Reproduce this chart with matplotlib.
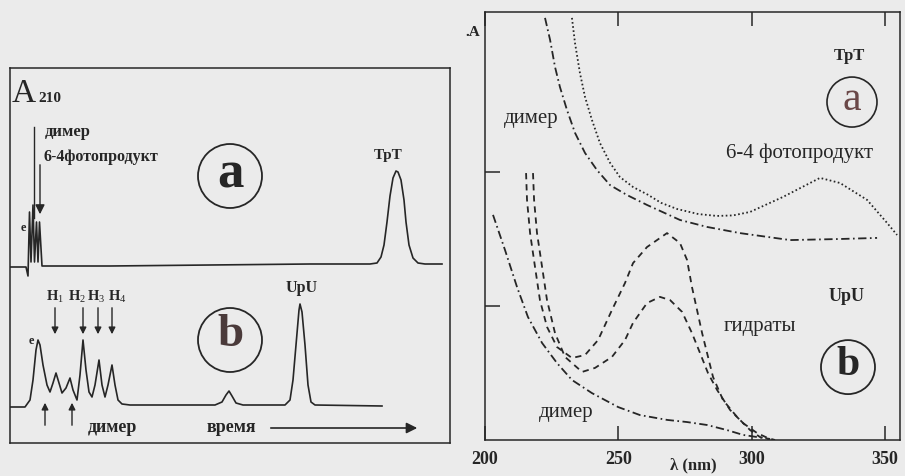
import matplotlib
matplotlib.use("Agg")
import matplotlib.pyplot as plt
from matplotlib.patches import Circle, Ellipse

# --- left: chromatograms (arbitrary time / A210 units) ---
trace_a_t = [0, 1.6, 1.8, 1.95, 2.1, 2.3, 2.45, 2.65, 2.8, 2.95, 3.2, 10, 20, 30, 36.0, 36.7,
             37.1, 37.4, 37.7, 38.0, 38.3, 38.6, 38.8, 39.1, 39.4, 39.6, 39.9, 40.3, 40.8, 41.5, 43.2]
trace_a_y = [17.6, 17.6, 16.7, 23.1, 18.1, 23.8, 18.1, 22.1, 18.1, 22.1, 17.7, 17.7, 17.8, 17.9, 17.9, 18.0,
             18.6, 19.8, 22.1, 24.7, 26.5, 27.2, 27.1, 26.3, 24.3, 22.1, 19.8, 18.5, 18.0, 17.9, 17.9]

trace_b_t = [0, 1.5, 2.0, 2.3, 2.6, 2.8, 3.0, 3.3, 3.7, 4.0, 4.3, 4.6, 4.9, 5.2, 5.6, 6.0, 6.3, 6.7,
             7.0, 7.3, 7.6, 7.9, 8.2, 8.5, 8.9, 9.2, 9.5, 9.8, 10.2, 10.5, 10.8, 11.2, 12.0, 20.5,
             21.2, 21.6, 21.9, 22.2, 22.6, 23.3, 27.5, 28.0, 28.3, 28.6, 28.9, 29.0, 29.2, 29.5,
             29.8, 30.1, 30.5, 37.2]
trace_b_y = [3.6, 3.6, 4.3, 6.3, 9.3, 10.3, 9.8, 7.8, 5.8, 5.1, 6.0, 7.0, 6.0, 5.0, 5.5, 6.5, 5.3, 4.3,
             6.8, 10.3, 7.3, 5.1, 4.6, 5.8, 8.3, 5.8, 4.6, 5.8, 7.8, 5.8, 4.3, 3.9, 3.8, 3.8,
             4.1, 4.8, 5.2, 4.7, 4.0, 3.8, 3.8, 4.3, 6.3, 9.8, 13.3, 13.9, 13.1, 9.8,
             5.8, 4.1, 3.8, 3.7]

h_labels = ["1", "2", "3", "4"]
h_label_t = [4.5, 6.75, 8.65, 10.75]
h_arrow_t = [4.5, 7.3, 8.8, 10.2]

# --- right: UV spectra ---
tpt_dimer_nm = [222.5, 224.4, 226.25, 228.1, 230.75, 233.75, 237.5, 242.0, 246.9, 253.25, 260.75,
                273.1, 283.25, 295.6, 314.4, 333.1, 347.0]
tpt_dimer_a = [1.575, 1.493, 1.392, 1.317, 1.231, 1.146, 1.071, 1.007, 0.951, 0.914, 0.877,
               0.821, 0.795, 0.772, 0.746, 0.750, 0.754]

photo64_nm = [232.6, 233.75, 235.6, 237.5, 240.1, 243.1, 246.9, 250.6, 255.5, 261.1, 266.0, 272.0,
              280.0, 287.0, 293.0, 299.4, 311.75, 325.6, 333.1, 343.25, 350.75, 354.5]
photo64_a = [1.575, 1.481, 1.369, 1.280, 1.194, 1.108, 1.034, 0.981, 0.944, 0.915, 0.885, 0.862,
             0.843, 0.836, 0.838, 0.851, 0.907, 0.978, 0.959, 0.896, 0.810, 0.765]

upu_dimer_nm = [203.0, 207.5, 212.0, 216.1, 221.4, 227.0, 232.6, 240.1, 249.9, 258.1, 268.25,
                275.75, 283.25, 290.75, 296.75, 302.0, 306.9]
upu_dimer_a = [0.840, 0.709, 0.571, 0.459, 0.362, 0.287, 0.224, 0.175, 0.123, 0.093, 0.075,
               0.067, 0.056, 0.037, 0.019, 0.011, 0.004]

hydrate1_nm = [215.4, 215.75, 216.9, 218.75, 220.6, 223.25, 227.0, 232.6, 237.5, 242.4, 247.6, 252.5,
               255.5, 260.75, 268.25, 273.1, 275.75, 277.6, 279.5, 281.4, 283.25, 285.5, 289.25,
               294.5, 299.4, 303.1, 306.9]
hydrate1_a = [0.996, 0.896, 0.772, 0.646, 0.522, 0.422, 0.347, 0.306, 0.317, 0.373, 0.485, 0.586,
              0.660, 0.720, 0.772, 0.735, 0.672, 0.571, 0.485, 0.399, 0.325, 0.235, 0.149,
              0.086, 0.037, 0.011, 0.0]

hydrate2_nm = [218.0, 218.4, 219.5, 221.4, 223.25, 226.25, 230.0, 236.4, 241.25, 247.6, 252.5, 255.5,
               260.75, 265.6, 269.4, 273.9, 277.6, 280.6, 283.6, 287.0, 291.9, 296.75, 302.0,
               306.1, 308.75]
hydrate2_a = [0.996, 0.896, 0.772, 0.646, 0.522, 0.399, 0.310, 0.254, 0.269, 0.310, 0.373, 0.437,
              0.511, 0.534, 0.522, 0.478, 0.399, 0.325, 0.250, 0.187, 0.112, 0.063, 0.026,
              0.007, 0.0]

x_ticks = [200, 250, 300, 350]

bg = "#ebebeb"
ink = "#262626"
serif = "Liberation Serif"
plt.rcParams["lines.scale_dashes"] = False
plt.rcParams["mathtext.fontset"] = "custom"
plt.rcParams["mathtext.rm"] = serif

fig = plt.figure(figsize=(9.05, 4.76), dpi=100, facecolor=bg)

# ---------------- left panel ----------------
ax1 = fig.add_axes([10 / 905, 33 / 476, 440 / 905, 375 / 476], facecolor=bg)
ax1.set_xlim(0, 44)
ax1.set_ylim(0, 37.5)
ax1.set_xticks([])
ax1.set_yticks([])
for s in ax1.spines.values():
    s.set_color(ink)
    s.set_linewidth(1.1)

ax1.plot(trace_a_t, trace_a_y, color=ink, lw=1.2)
ax1.plot(trace_b_t, trace_b_y, color=ink, lw=1.2)

ax1.text(0.2, 34.1, "A", fontsize=24, family=serif, color=ink, va="baseline")
ax1.text(2.8, 34.1, "210", fontsize=11, family=serif, color=ink, va="baseline", weight="bold")
ax1.text(3.5, 31.1, "димер", fontsize=12, family=serif, weight="bold", color=ink, va="center")
ax1.text(3.3, 28.6, "6-4фотопродукт", fontsize=11.5, family=serif, weight="bold", color=ink, va="center")
ax1.text(37.8, 28.8, "TpT", fontsize=11, family=serif, weight="bold", color=ink, ha="center", va="center")
ax1.text(1.3, 21.5, "e", fontsize=9, family=serif, weight="bold", color=ink, ha="center", va="center")
ax1.text(2.1, 10.2, "e", fontsize=9, family=serif, weight="bold", color=ink, ha="center", va="center")
ax1.plot([2.4, 2.4], [31.6, 22.5], color=ink, lw=1.0)
ax1.annotate("", xy=(3.0, 22.6), xytext=(3.0, 28.1),
             arrowprops=dict(arrowstyle="-|>", color=ink, lw=1.0, mutation_scale=14))

ax1.add_patch(Circle((22.0, 26.7), 3.2, fill=False, ec=ink, lw=1.3))
ax1.text(22.0, 26.9, "a", fontsize=38, family=serif, weight="bold", color=ink, ha="center", va="center")
ax1.add_patch(Circle((22.0, 10.3), 3.2, fill=False, ec=ink, lw=1.3))
ax1.text(22.0, 10.8, "b", fontsize=34, family=serif, weight="bold", color="#4a3a3a", ha="center", va="center")

ax1.text(29.2, 15.5, "UpU", fontsize=11.5, family=serif, weight="bold", color=ink, ha="center", va="center")
for lab, lt, at in zip(h_labels, h_label_t, h_arrow_t):
    ax1.text(lt, 14.6, "H$_{%s}$" % lab, fontsize=10.5, family=serif, weight="bold", color=ink,
             ha="center", va="center")
    ax1.annotate("", xy=(at, 10.6), xytext=(at, 13.8),
                 arrowprops=dict(arrowstyle="-|>", color=ink, lw=1.0, mutation_scale=10))
for at in [3.5, 6.2]:
    ax1.annotate("", xy=(at, 4.3), xytext=(at, 1.5),
                 arrowprops=dict(arrowstyle="-|>", color=ink, lw=1.0, mutation_scale=10))
ax1.text(10.2, 1.6, "димер", fontsize=13, family=serif, weight="bold", color=ink, ha="center", va="center")
ax1.text(22.1, 1.6, "время", fontsize=13, family=serif, weight="bold", color=ink, ha="center", va="center")
ax1.annotate("", xy=(41.0, 1.5), xytext=(25.8, 1.5),
             arrowprops=dict(arrowstyle="-|>", color=ink, lw=1.2, mutation_scale=16))

# ---------------- right panel ----------------
ax2 = fig.add_axes([485 / 905, 36 / 476, 415 / 905, 428 / 476], facecolor=bg)
ax2.set_xlim(200, 355.6)
ax2.set_ylim(0, 1.597)
for s in ax2.spines.values():
    s.set_color(ink)
    s.set_linewidth(1.1)

dashdot = (0, (6, 2.5, 1.2, 2.5))
ax2.plot(tpt_dimer_nm, tpt_dimer_a, color=ink, lw=1.3, ls=dashdot)
ax2.plot(photo64_nm, photo64_a, color=ink, lw=1.3, ls=(0, (1.2, 1.8)))
ax2.plot(upu_dimer_nm, upu_dimer_a, color=ink, lw=1.3, ls=dashdot)
ax2.plot(hydrate1_nm, hydrate1_a, color=ink, lw=1.3, ls=(0, (4.5, 3.5)))
ax2.plot(hydrate2_nm, hydrate2_a, color=ink, lw=1.3, ls=(0, (4.5, 3.5)))

ax2.set_xticks(x_ticks)
ax2.set_xticklabels([str(v) for v in x_ticks], family=serif, fontsize=13, weight="bold", color=ink)
ax2.set_yticks([0.5, 1.0])
ax2.set_yticklabels([])
ax2.tick_params(axis="x", direction="in", length=10, width=1.1, top=True, pad=8, color=ink)
ax2.tick_params(axis="y", direction="in", length=11, width=1.1, color=ink)

ax2.text(195.5, 1.519, ".A", fontsize=11, family=serif, weight="bold", color=ink,
         ha="center", va="center", clip_on=False)
ax2.text(336.5, 1.433, "TpT", fontsize=12, family=serif, weight="bold", color=ink, ha="center", va="center")
ax2.add_patch(Ellipse((337.6, 1.261), 18.75, 0.1866, fill=False, ec=ink, lw=1.2))
ax2.text(337.6, 1.268, "a", fontsize=30, family=serif, color="#6a4848", ha="center", va="center")
ax2.text(217.25, 1.198, "димер", fontsize=15, family=serif, color=ink, ha="center", va="center")
ax2.text(317.75, 1.071, "6-4 фотопродукт", fontsize=15, family=serif, color=ink, ha="center", va="center")
ax2.text(335.75, 0.537, "UpU", fontsize=13, family=serif, weight="bold", color=ink, ha="center", va="center")
ax2.text(303.1, 0.422, "гидраты", fontsize=15, family=serif, color=ink, ha="center", va="center")
ax2.add_patch(Ellipse((336.1, 0.272), 20.25, 0.2015, fill=False, ec=ink, lw=1.3))
ax2.text(336.1, 0.278, "b", fontsize=30, family=serif, weight="bold", color=ink, ha="center", va="center")
ax2.text(230.4, 0.104, "димер", fontsize=15, family=serif, color=ink, ha="center", va="center")
ax2.text(278, -0.093, "λ (nm)", fontsize=12, family=serif, weight="bold", color=ink,
         ha="center", va="center", clip_on=False)

fig.savefig("out.png", dpi=100, facecolor=bg)
